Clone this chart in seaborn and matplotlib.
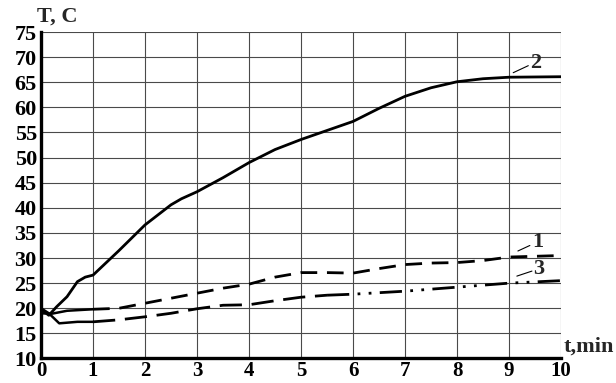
import numpy as np
import pandas as pd
import matplotlib
matplotlib.use("Agg")
import matplotlib.pyplot as plt
import seaborn as sns

# Data (time in min, temperature in C)
t2 = [0, 0.15, 0.3, 0.5, 0.7, 0.85, 1.0, 1.5, 2.0, 2.5, 2.7, 3.0, 3.5, 4.0, 4.5, 5.0, 5.5, 6.0, 6.5, 7.0, 7.5, 8.0, 8.5, 9.0, 10.0]
T2 = [19.8, 18.6, 20.3, 22.3, 25.3, 26.2, 26.6, 31.5, 36.6, 40.6, 41.8, 43.2, 46.0, 49.0, 51.6, 53.6, 55.4, 57.2, 59.8, 62.2, 63.9, 65.1, 65.7, 66.0, 66.1]

t1 = [0, 0.2, 0.5, 1.0, 1.5, 2.0, 2.5, 3.0, 3.5, 4.0, 4.5, 5.0, 5.5, 6.0, 6.5, 7.0, 7.5, 8.0, 8.5, 9.0, 10.0]
T1 = [19.0, 18.9, 19.5, 19.8, 20.0, 21.0, 22.0, 23.0, 24.0, 24.8, 26.2, 27.1, 27.1, 27.0, 27.9, 28.7, 29.0, 29.1, 29.5, 30.2, 30.5]

t3 = [0, 0.15, 0.35, 0.7, 1.0, 1.5, 2.0, 2.5, 3.0, 3.5, 4.0, 4.5, 5.0, 5.5, 6.0, 7.0, 8.0, 9.0, 10.0]
T3 = [20.0, 19.0, 17.0, 17.3, 17.3, 17.7, 18.3, 19.0, 19.9, 20.6, 20.7, 21.5, 22.2, 22.6, 22.8, 23.4, 24.2, 25.0, 25.5]

x_ticks = list(range(0, 11))
y_ticks = list(range(10, 80, 5))

sns.set_style("white")
plt.rcParams['font.family'] = ['Liberation Serif', 'DejaVu Serif']
plt.rcParams['font.weight'] = 'bold'

fs = 16

fig = plt.figure(figsize=(6.16, 3.83), dpi=100)
ax = fig.add_axes([0.0666, 0.064, 0.8442, 0.8524])

df1 = pd.DataFrame({"t": t1, "T": T1})
df2 = pd.DataFrame({"t": t2, "T": T2})
df3 = pd.DataFrame({"t": t3, "T": T3})

# curve 2: solid
sns.lineplot(data=df2, x="t", y="T", ax=ax, color="black", lw=2.0)
# curve 1: solid start, then dashed
sns.lineplot(data=df1.iloc[:4], x="t", y="T", ax=ax, color="black", lw=1.8)
sns.lineplot(data=df1.iloc[3:], x="t", y="T", ax=ax, color="black", lw=2.0,
             linestyle=(0, (6, 3.5)))
# curve 3: solid start, long dashes, then dash-dot-dot
sns.lineplot(data=df3.iloc[:5], x="t", y="T", ax=ax, color="black", lw=1.8)
sns.lineplot(data=df3.iloc[4:14], x="t", y="T", ax=ax, color="black", lw=2.0,
             linestyle=(0, (8, 3.5)))
sns.lineplot(data=df3.iloc[13:], x="t", y="T", ax=ax, color="black", lw=2.0,
             linestyle=(0, (8, 3, 1, 3, 1, 3)))

ax.set_xlim(0, 10)
ax.set_ylim(10, 75)
ax.set_xticks(x_ticks)
ax.set_yticks(y_ticks)
ax.grid(True, color="#4a4a4a", lw=0.8)
ax.set_axisbelow(True)
for s in ["top", "right"]:
    ax.spines[s].set_visible(False)
for s in ["left", "bottom"]:
    ax.spines[s].set_linewidth(2.4)
    ax.spines[s].set_color("black")
ax.tick_params(axis="y", direction="out", length=3, width=1.5, pad=0,
               labelsize=fs, colors="black")
ax.tick_params(axis="x", direction="out", length=2, width=1.5, pad=0,
               labelsize=15, colors="black")
for lab in ax.get_xticklabels() + ax.get_yticklabels():
    lab.set_fontweight("bold")
ax.set_xlabel("")
ax.set_ylabel("")

ax.text(-0.08, 76.0, "T, C", fontsize=fs, fontweight="bold", ha="left", va="bottom")
ax.text(10.05, 10.3, "t,min", fontsize=fs, fontweight="bold", ha="left", va="bottom",
        clip_on=False)

# curve labels with leader lines
ax.plot([9.08, 9.37], [66.9, 68.3], color="black", lw=0.8)
ax.text(9.4, 68.9, "2", fontsize=fs, fontweight="bold", ha="left", va="center")
ax.plot([9.17, 9.4], [31.4, 32.5], color="black", lw=0.8)
ax.text(9.45, 33.1, "1", fontsize=fs, fontweight="bold", ha="left", va="center")
ax.plot([9.15, 9.44], [26.4, 27.4], color="black", lw=0.8)
ax.text(9.47, 27.9, "3", fontsize=fs, fontweight="bold", ha="left", va="center")

fig.savefig("out.png", dpi=100)
